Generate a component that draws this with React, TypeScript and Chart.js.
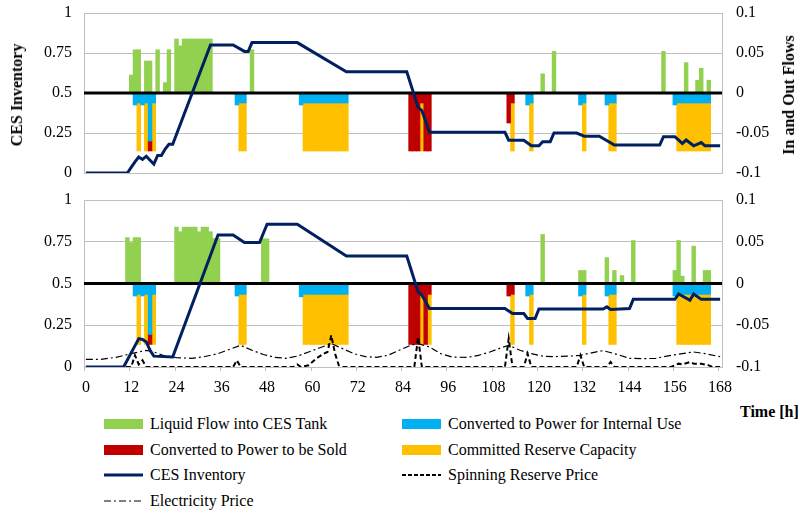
import React, { useEffect, useRef } from "react";
import { Chart, registerables } from "chart.js";

Chart.register(...registerables);

const SERIF = '"Liberation Serif", "Times New Roman", serif';
Chart.defaults.font.family = SERIF;
Chart.defaults.font.size = 16;
Chart.defaults.color = "#000";

type Pt = [number, number];

// axis ticks
const X_TICKS = [0, 12, 24, 36, 48, 60, 72, 84, 96, 108, 120, 132, 144, 156, 168];
const INVENTORY_TICKS = [0, 0.25, 0.5, 0.75, 1];
const FLOW_TICKS = [-0.1, -0.05, 0, 0.05, 0.1];

// ---------- top panel: [hour, value] ----------
const topLiquidIn: Pt[] = [
  [12, 0.0225], [13, 0.054], [14, 0.054], [16, 0.04], [17, 0.04], [19, 0.054], [21, 0.013], [22, 0.054],
  [24, 0.0675], [25, 0.059], [26, 0.0675], [27, 0.0675], [28, 0.0675], [29, 0.0675], [30, 0.0675],
  [31, 0.0675], [32, 0.0675], [33, 0.0675], [44, 0.054], [121, 0.024], [124, 0.052], [153, 0.052],
  [159, 0.038], [162, 0.016], [163, 0.031], [165, 0.016],
];
const topInternalUse: Pt[] = [
  [13, -0.015], [14, -0.0125], [15, -0.015], [16, -0.0125], [17, -0.06], [18, -0.0125],
  [40, -0.015], [41, -0.0125], [42, -0.0125],
  [57, -0.015], [58, -0.0125], [59, -0.0125], [60, -0.0125], [61, -0.0125], [62, -0.0125], [63, -0.0125],
  [64, -0.0125], [65, -0.0125], [66, -0.0125], [67, -0.0125], [68, -0.0125], [69, -0.0125],
  [117, -0.015], [118, -0.0125], [131, -0.015], [132, -0.0125], [138, -0.015], [139, -0.0125], [140, -0.0125],
  [156, -0.015], [157, -0.0125], [158, -0.0125], [159, -0.0125], [160, -0.0125], [161, -0.0125],
  [162, -0.0125], [163, -0.0125], [164, -0.0125], [165, -0.0125],
];
const topSold: Pt[] = [
  [17, -0.0125], [86, -0.0725], [87, -0.0725], [88, -0.0725], [89, -0.0125], [90, -0.0725], [91, -0.0725],
  [112, -0.0375], [113, -0.0125],
];
const topReserve: Pt[] = [
  [14, -0.06], [16, -0.06], [18, -0.06], [41, -0.06], [42, -0.06],
  [58, -0.06], [59, -0.06], [60, -0.06], [61, -0.06], [62, -0.06], [63, -0.06], [64, -0.06], [65, -0.06],
  [66, -0.06], [67, -0.06], [68, -0.06], [69, -0.06],
  [89, -0.06], [113, -0.06], [118, -0.06], [132, -0.06], [139, -0.06], [140, -0.06],
  [157, -0.06], [158, -0.06], [159, -0.06], [160, -0.06], [161, -0.06], [162, -0.06], [163, -0.06],
  [164, -0.06], [165, -0.06],
];
const topInventory: Pt[] = [
  [0, 0], [11, 0], [12, 0.035], [13, 0.07], [14, 0.1], [15, 0.085], [16, 0.105], [17, 0.08], [18, 0.056],
  [19, 0.11], [20, 0.11], [21, 0.15], [22, 0.18], [23, 0.18], [33, 0.8], [39, 0.8], [42, 0.76], [43, 0.76],
  [44, 0.815], [56, 0.815], [69, 0.633], [85, 0.633], [88, 0.41], [89, 0.39], [91, 0.254], [111, 0.254],
  [112, 0.205], [116, 0.205], [118, 0.17], [120, 0.17], [121, 0.196], [123, 0.196], [124, 0.25], [130, 0.25],
  [132, 0.23], [136, 0.23], [140, 0.175], [152, 0.175], [153, 0.227], [156, 0.227], [158, 0.185],
  [159, 0.206], [161, 0.17], [163, 0.19], [164, 0.17], [168, 0.17],
];

// ---------- bottom panel ----------
const botLiquidIn: Pt[] = [
  [11, 0.055], [12, 0.049], [13, 0.055], [14, 0.055],
  [24, 0.0675], [25, 0.062], [26, 0.0675], [27, 0.0675], [28, 0.0675], [29, 0.0675], [30, 0.062],
  [31, 0.0675], [32, 0.0675], [33, 0.062], [34, 0.054], [35, 0.054],
  [47, 0.0535], [48, 0.0535], [121, 0.0587], [131, 0.0156], [132, 0.0156], [138, 0.031], [140, 0.0156],
  [142, 0.0096], [145, 0.0515], [156, 0.0156], [157, 0.0515], [158, 0.0088], [161, 0.0447],
  [164, 0.0156], [165, 0.0156],
];
const botInternalUse: Pt[] = [
  [13, -0.015], [14, -0.013], [15, -0.015], [16, -0.013], [17, -0.061], [18, -0.013],
  [40, -0.015], [41, -0.013], [42, -0.013],
  [57, -0.016], [58, -0.013], [59, -0.013], [60, -0.013], [61, -0.013], [62, -0.013], [63, -0.013],
  [64, -0.013], [65, -0.013], [66, -0.013], [67, -0.013], [68, -0.013], [69, -0.013],
  [117, -0.015], [118, -0.013], [131, -0.015], [132, -0.013], [138, -0.015], [139, -0.013], [140, -0.013],
  [156, -0.015], [157, -0.013], [158, -0.013], [159, -0.013], [160, -0.013], [161, -0.013],
  [162, -0.013], [163, -0.013], [164, -0.013], [165, -0.013],
];
const botSold: Pt[] = [
  [17, -0.012], [86, -0.073], [87, -0.073], [88, -0.073], [89, -0.013], [90, -0.073], [91, -0.013],
  [112, -0.015], [113, -0.013],
];
const botReserve: Pt[] = [
  [14, -0.06], [16, -0.06], [18, -0.06], [41, -0.06], [42, -0.06],
  [58, -0.06], [59, -0.06], [60, -0.06], [61, -0.06], [62, -0.06], [63, -0.06], [64, -0.06], [65, -0.06],
  [66, -0.06], [67, -0.06], [68, -0.06], [69, -0.06],
  [89, -0.06], [91, -0.06], [113, -0.06], [118, -0.06], [132, -0.06], [139, -0.06], [140, -0.06],
  [157, -0.06], [158, -0.06], [159, -0.06], [160, -0.06], [161, -0.06], [162, -0.06], [163, -0.06],
  [164, -0.06], [165, -0.06],
];
const botInventory: Pt[] = [
  [0, 0], [10, 0], [14, 0.17], [15, 0.165], [16, 0.15], [17, 0.1], [18, 0.065], [23, 0.06], [35, 0.79],
  [39, 0.79], [42, 0.745], [46, 0.745], [48, 0.855], [56, 0.855], [69, 0.665], [85, 0.665], [88, 0.45],
  [89, 0.43], [91, 0.35], [111, 0.35], [113, 0.32], [116, 0.32], [117, 0.29], [119, 0.29], [120, 0.347],
  [137, 0.347], [138, 0.36], [139, 0.345], [144, 0.35], [145, 0.405], [156, 0.405], [157, 0.437],
  [160, 0.4], [161, 0.437], [163, 0.405], [168, 0.405],
];
const spinningReservePrice: Pt[] = [
  [0, 0], [12, 0], [13, 0.07], [14, 0.015], [15, 0.04], [16, 0], [39, 0], [40, 0.04], [41, 0],
  [55, 0], [56, 0.015], [57, 0], [59, 0.01], [61, 0.05], [63, 0.08], [64, 0.09], [65, 0.19], [66, 0.08],
  [67, 0.01], [68, 0], [87, 0], [88, 0.18], [89, 0], [111, 0], [112, 0.17], [113, 0], [116, 0],
  [117, 0.08], [118, 0], [130, 0], [131, 0.07], [132, 0], [138, 0], [139, 0.03], [140, 0], [155, 0],
  [157, 0.02], [158, 0.015], [160, 0.03], [161, 0.02], [163, 0.02], [165, 0.01], [166, 0], [168, 0],
];
const electricityPrice: Pt[] = [
  [0, 0.046], [4, 0.046], [8, 0.058], [12, 0.08], [16, 0.1], [18, 0.09], [21, 0.066], [24, 0.056],
  [28, 0.052], [31, 0.06], [35, 0.08], [38, 0.105], [41, 0.13], [44, 0.1], [47, 0.075], [50, 0.058],
  [53, 0.052], [56, 0.065], [59, 0.09], [62, 0.115], [65, 0.14], [68, 0.11], [71, 0.08], [74, 0.062],
  [77, 0.058], [80, 0.07], [83, 0.1], [86, 0.13], [88, 0.14], [91, 0.12], [94, 0.08], [97, 0.06],
  [101, 0.057], [104, 0.07], [107, 0.09], [110, 0.115], [112, 0.13], [115, 0.1], [118, 0.08],
  [121, 0.065], [124, 0.062], [128, 0.065], [131, 0.07], [134, 0.085], [137, 0.098], [140, 0.08],
  [144, 0.052], [148, 0.05], [151, 0.052], [155, 0.07], [158, 0.08], [161, 0.09], [164, 0.08],
  [167, 0.066], [168, 0.062],
];

const GREEN = "#92D050";
const BLUE = "#00B0F0";
const RED = "#C00000";
const ORANGE = "#FFC000";
const NAVY = "#002060";
const GRID = "#BFBFBF";
const ELEC_DASH = [7, 3, 2, 3];
const SPIN_DASH = [5, 3];

const toXY = (a: Pt[]) => a.map(([x, y]) => ({ x, y }));

type PanelProps = {
  top: number;
  height: number;
  padTop: number;
  xHeight: number;
  showX: boolean;
  liquid: Pt[];
  internal: Pt[];
  sold: Pt[];
  reserve: Pt[];
  inventory: Pt[];
  spinning?: Pt[];
  electricity?: Pt[];
};

function Panel(p: PanelProps) {
  const ref = useRef<HTMLCanvasElement>(null);
  useEffect(() => {
    if (!ref.current) return;
    const lines: any[] = [
      {
        type: "line", label: "CES Inventory", data: toXY(p.inventory), yAxisID: "y",
        borderColor: NAVY, backgroundColor: NAVY, borderWidth: 3, pointRadius: 0, tension: 0,
      },
    ];
    if (p.spinning) {
      lines.push({
        type: "line", label: "Spinning Reserve Price", data: toXY(p.spinning), yAxisID: "y",
        borderColor: "#000", borderWidth: 2, borderDash: SPIN_DASH, pointRadius: 0, tension: 0,
      });
    }
    if (p.electricity) {
      lines.push({
        type: "line", label: "Electricity Price", data: toXY(p.electricity), yAxisID: "y",
        borderColor: "#000", borderWidth: 1.2, borderDash: ELEC_DASH, pointRadius: 0, tension: 0,
      });
    }
    const barCommon = {
      type: "bar", yAxisID: "y2", stack: "flows", barPercentage: 1, categoryPercentage: 1,
      borderWidth: 0, borderSkipped: false,
    };
    const bars: any[] = [
      { ...barCommon, label: "Liquid Flow into CES Tank", data: toXY(p.liquid), backgroundColor: GREEN },
      { ...barCommon, label: "Converted to Power for Internal Use", data: toXY(p.internal), backgroundColor: BLUE },
      { ...barCommon, label: "Converted to Power to be Sold", data: toXY(p.sold), backgroundColor: RED },
      { ...barCommon, label: "Committed Reserve Capacity", data: toXY(p.reserve), backgroundColor: ORANGE },
    ];
    const firstBarIndex = lines.length;
    const zeroLine = {
      id: "zeroLine",
      afterDatasetDraw(chart: any, args: any) {
        if (args.index !== firstBarIndex) return;
        const { ctx, chartArea } = chart;
        const y = chart.scales.y.getPixelForValue(0.5);
        ctx.save();
        ctx.strokeStyle = "#000";
        ctx.lineWidth = 3;
        ctx.beginPath();
        ctx.moveTo(chartArea.left, y);
        ctx.lineTo(chartArea.right, y);
        ctx.stroke();
        ctx.restore();
      },
    };
    const tickMarks = {
      id: "tickMarks",
      afterDraw(chart: any) {
        if (!p.showX) return;
        const { ctx, chartArea } = chart;
        const xs = chart.scales.x;
        ctx.save();
        ctx.strokeStyle = GRID;
        ctx.lineWidth = 1;
        X_TICKS.forEach((h) => {
          const x = Math.round(xs.getPixelForValue(h - 0.5)) + 0.5;
          ctx.beginPath();
          ctx.moveTo(x, chartArea.bottom);
          ctx.lineTo(x, chartArea.bottom + 4);
          ctx.stroke();
        });
        ctx.restore();
      },
    };
    const noVertPad = (s: any) => { s.paddingTop = 0; s.paddingBottom = 0; };
    const chart = new Chart(ref.current, {
      type: "bar",
      data: { datasets: [...lines, ...bars] },
      options: {
        responsive: false,
        animation: false,
        layout: { padding: { top: p.padTop, bottom: 0, left: 0, right: 0 } },
        plugins: { legend: { display: false }, tooltip: { enabled: false } },
        scales: {
          x: {
            type: "linear", min: -0.5, max: 168.5, stacked: true, offset: false, display: p.showX,
            afterBuildTicks: (s: any) => { s.ticks = X_TICKS.map((v) => ({ value: v })); },
            afterFit: (s: any) => { s.height = p.xHeight; s.paddingLeft = 0; s.paddingRight = 0; },
            grid: { display: false, drawTicks: false, offset: false },
            border: { display: false },
            ticks: { padding: 11, maxRotation: 0, autoSkip: false, color: "#000", callback: (v: any) => String(v) },
          },
          y: {
            type: "linear", position: "left", min: 0, max: 1,
            afterBuildTicks: (s: any) => { s.ticks = INVENTORY_TICKS.map((v) => ({ value: v })); },
            afterFit: (s: any) => { s.width = 84; noVertPad(s); },
            grid: {
              drawTicks: false, lineWidth: 1,
              color: (c: any) => (c.tick && c.tick.value === 0.5 ? "rgba(0,0,0,0)" : GRID),
            },
            border: { display: true, color: GRID },
            ticks: { padding: 12, color: "#000", callback: (v: any) => String(v) },
          },
          y2: {
            type: "linear", position: "right", min: -0.1, max: 0.1, stacked: true,
            afterBuildTicks: (s: any) => { s.ticks = FLOW_TICKS.map((v) => ({ value: v })); },
            afterFit: (s: any) => { s.width = 80; noVertPad(s); },
            grid: { display: false, drawTicks: false },
            border: { display: true, color: GRID },
            ticks: { padding: 14, color: "#000", callback: (v: any) => String(+Number(v).toFixed(2)) },
          },
        },
      } as any,
      plugins: [zeroLine, tickMarks],
    } as any);
    return () => chart.destroy();
  }, []);
  return (
    <canvas
      ref={ref}
      width={802}
      height={p.height}
      style={{ position: "absolute", left: 0, top: p.top, width: 802, height: p.height, display: "block" }}
    />
  );
}

function BarSwatch({ color }: { color: string }) {
  return (
    <svg width={40} height={20} style={{ display: "block" }}>
      <rect x={0} y={5} width={39} height={10} fill={color} />
    </svg>
  );
}
function LineSwatch({ color, width, dash }: { color: string; width: number; dash?: number[] }) {
  return (
    <svg width={40} height={20} style={{ display: "block" }}>
      <line x1={0} y1={10} x2={39} y2={10} stroke={color} strokeWidth={width} strokeDasharray={dash ? dash.join(" ") : undefined} />
    </svg>
  );
}

function LegendItem({ x, y, swatch, text }: { x: number; y: number; swatch: React.ReactNode; text: string }) {
  return (
    <div style={{ position: "absolute", left: x, top: y - 10, height: 20, display: "flex", alignItems: "center", whiteSpace: "nowrap" }}>
      {swatch}
      <span style={{ marginLeft: 6, fontSize: 16, lineHeight: "20px" }}>{text}</span>
    </div>
  );
}

export default function App() {
  const title: React.CSSProperties = {
    position: "absolute", fontWeight: "bold", fontSize: 16, whiteSpace: "nowrap",
    transform: "translate(-50%, -50%) rotate(-90deg)",
  };
  return (
    <div style={{ position: "absolute", left: 0, top: 0, width: 802, height: 519, background: "#fff", fontFamily: SERIF, color: "#000", overflow: "hidden" }}>
      <Panel top={0} height={186} padTop={13} xHeight={13} showX={false}
        liquid={topLiquidIn} internal={topInternalUse} sold={topSold} reserve={topReserve} inventory={topInventory} />
      <Panel top={186} height={214} padTop={14} xHeight={33} showX={true}
        liquid={botLiquidIn} internal={botInternalUse} sold={botSold} reserve={botReserve} inventory={botInventory}
        spinning={spinningReservePrice} electricity={electricityPrice} />
      <div style={{ ...title, left: 17, top: 95 }}>CES Inventory</div>
      <div style={{ ...title, left: 789, top: 95 }}>In and Out Flows</div>
      <div style={{ position: "absolute", left: 740, top: 402, fontWeight: "bold", fontSize: 16, lineHeight: "20px", whiteSpace: "nowrap" }}>Time [h]</div>
      <LegendItem x={104} y={424} swatch={<BarSwatch color={GREEN} />} text="Liquid Flow into CES Tank" />
      <LegendItem x={402} y={424} swatch={<BarSwatch color={BLUE} />} text="Converted to Power for Internal Use" />
      <LegendItem x={104} y={450} swatch={<BarSwatch color={RED} />} text="Converted to Power to be Sold" />
      <LegendItem x={402} y={450} swatch={<BarSwatch color={ORANGE} />} text="Committed Reserve Capacity" />
      <LegendItem x={104} y={475} swatch={<LineSwatch color={NAVY} width={3} />} text="CES Inventory" />
      <LegendItem x={402} y={475} swatch={<LineSwatch color="#000" width={2} dash={[4, 2]} />} text="Spinning Reserve Price" />
      <LegendItem x={104} y={501} swatch={<LineSwatch color="#000" width={1.2} dash={ELEC_DASH} />} text="Electricity Price" />
    </div>
  );
}
